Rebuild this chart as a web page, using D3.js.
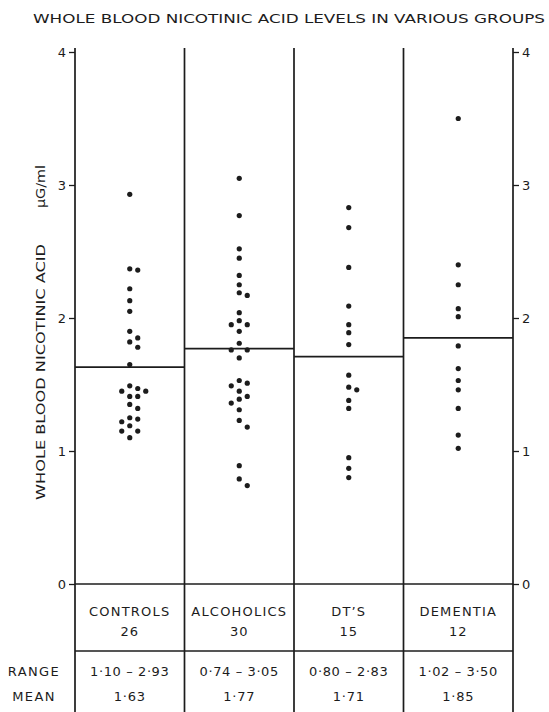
<!DOCTYPE html>
<html>
<head>
<meta charset="utf-8">
<script src="https://cdn.jsdelivr.net/npm/d3@7"></script>
<style>
  body { margin: 0; background: #fff; }
  svg { display: block; }
  text { font-family: 'DejaVu Sans', sans-serif; fill: #1c1c1c; }
</style>
</head>
<body>
<script>
const width = 549;
const height = 712;

const groups = ['CONTROLS', 'ALCOHOLICS', 'DT’S', 'DEMENTIA'];
const groupCounts = ['26', '30', '15', '12'];
const rangeLabels = ['1·10 – 2·93', '0·74 – 3·05', '0·80 – 2·83', '1·02 – 3·50'];
const meanLabels = ['1·63', '1·77', '1·71', '1·85'];
const meanValues = [1.63, 1.77, 1.71, 1.85];
const yTicks = [0, 1, 2, 3, 4];

const controlsValues = [2.93, 2.37, 2.36, 2.22, 2.13, 2.05, 1.90, 1.85, 1.82, 1.78, 1.65,
  1.49, 1.47, 1.45, 1.45, 1.41, 1.41, 1.35, 1.32, 1.25, 1.24, 1.22, 1.19, 1.15, 1.15, 1.10];
const alcoholicsValues = [3.05, 2.77, 2.52, 2.45, 2.32, 2.25, 2.19, 2.17, 2.04, 1.98, 1.95, 1.95,
  1.90, 1.81, 1.76, 1.76, 1.70, 1.53, 1.51, 1.49, 1.45, 1.41, 1.39, 1.36, 1.31, 1.23, 1.18,
  0.89, 0.79, 0.74];
const dtsValues = [2.83, 2.68, 2.38, 2.09, 1.95, 1.89, 1.80, 1.57, 1.48, 1.46, 1.38, 1.32,
  0.95, 0.87, 0.80];
const dementiaValues = [3.50, 2.40, 2.25, 2.07, 2.01, 1.79, 1.62, 1.53, 1.46, 1.32, 1.12, 1.02];

const groupValues = [controlsValues, alcoholicsValues, dtsValues, dementiaValues];

const ink = '#1c1c1c';

const x = d3.scaleBand().domain(groups).range([75, 513]).padding(0);
const y = d3.scaleLinear().domain([0, 4]).range([584, 52]);

// spread dots sideways when they would overlap
function dodge(values, cx) {
  const placed = [];
  const offsets = [0, 8, -8, 16, -16, 24, -24];
  values.slice().sort((a, b) => b - a).forEach(v => {
    const py = y(v);
    for (const o of offsets) {
      if (placed.every(p => Math.hypot(p.x - (cx + o), p.y - py) >= 7)) {
        placed.push({ x: cx + o, y: py, v });
        break;
      }
    }
  });
  return placed;
}

function main() {
  const svg = d3.select('body').append('svg')
    .attr('width', width)
    .attr('height', height);

  // title
  svg.append('text')
    .attr('x', 33)
    .attr('y', 23)
    .attr('textLength', 512)
    .attr('lengthAdjust', 'spacingAndGlyphs')
    .style('font-size', '13px')
    .text('WHOLE BLOOD NICOTINIC ACID LEVELS IN VARIOUS GROUPS');

  // y axis title
  svg.append('text')
    .attr('transform', 'translate(45,500) rotate(-90)')
    .attr('textLength', 256)
    .attr('lengthAdjust', 'spacingAndGlyphs')
    .style('font-size', '13px')
    .text('WHOLE BLOOD NICOTINIC ACID');
  svg.append('text')
    .attr('transform', 'translate(45,208) rotate(-90)')
    .attr('textLength', 43)
    .attr('lengthAdjust', 'spacingAndGlyphs')
    .style('font-size', '13px')
    .text('μG/ml');

  const frame = svg.append('g')
    .attr('stroke', ink)
    .attr('stroke-width', 1.7)
    .attr('fill', 'none');

  // vertical rules: left axis, dividers, right axis
  const edges = groups.map(g => x(g)).concat([x.range()[1]]);
  frame.selectAll('line.v')
    .data(edges)
    .join('line')
      .attr('class', 'v')
      .attr('x1', d => d)
      .attr('x2', d => d)
      .attr('y1', y(4) - 4)
      .attr('y2', height);

  // zero line and table divider
  frame.append('line')
    .attr('x1', x.range()[0]).attr('x2', x.range()[1])
    .attr('y1', y(0)).attr('y2', y(0));
  frame.append('line')
    .attr('x1', x.range()[0]).attr('x2', x.range()[1])
    .attr('y1', 651).attr('y2', 651);

  // left axis
  const left = svg.append('g')
    .attr('transform', `translate(${x.range()[0]},0)`)
    .call(d3.axisLeft(y).tickValues(yTicks).tickFormat(d3.format('d')).tickSize(6).tickPadding(3));
  left.select('.domain').remove();
  left.selectAll('line').attr('stroke', ink).attr('stroke-width', 1.3);
  left.selectAll('text').style('font-size', '13px').attr('fill', ink);

  // right axis
  const right = svg.append('g')
    .attr('transform', `translate(${x.range()[1]},0)`)
    .call(d3.axisRight(y).tickValues(yTicks).tickFormat(d3.format('d')).tickSize(6).tickPadding(3));
  right.select('.domain').remove();
  right.selectAll('line').attr('stroke', ink).attr('stroke-width', 1.3);
  right.selectAll('text').style('font-size', '13px').attr('fill', ink);

  // group means
  svg.append('g')
    .selectAll('line')
    .data(groups)
    .join('line')
      .attr('x1', d => x(d))
      .attr('x2', d => x(d) + x.bandwidth())
      .attr('y1', (d, i) => y(meanValues[i]))
      .attr('y2', (d, i) => y(meanValues[i]))
      .attr('stroke', ink)
      .attr('stroke-width', 1.7);

  // individual values
  const dots = svg.append('g').attr('fill', ink);
  groups.forEach((g, i) => {
    const cx = x(g) + x.bandwidth() / 2;
    dots.selectAll(null)
      .data(dodge(groupValues[i], cx))
      .join('circle')
        .attr('cx', d => d.x)
        .attr('cy', d => d.y)
        .attr('r', 2.6);
  });

  // table below the plot
  const table = svg.append('g')
    .attr('text-anchor', 'middle')
    .style('font-size', '13px');

  table.selectAll('text.name')
    .data(groups)
    .join('text')
      .attr('class', 'name')
      .attr('x', d => x(d) + x.bandwidth() / 2)
      .attr('y', 616)
      .style('letter-spacing', '1.2px')
      .text(d => d);

  table.selectAll('text.count')
    .data(groupCounts)
    .join('text')
      .attr('class', 'count')
      .attr('x', (d, i) => x(groups[i]) + x.bandwidth() / 2)
      .attr('y', 636)
      .style('letter-spacing', '1px')
      .text(d => d);

  table.selectAll('text.range')
    .data(rangeLabels)
    .join('text')
      .attr('class', 'range')
      .attr('x', (d, i) => x(groups[i]) + x.bandwidth() / 2)
      .attr('y', 676)
      .style('letter-spacing', '0.6px')
      .text(d => d);

  table.selectAll('text.mean')
    .data(meanLabels)
    .join('text')
      .attr('class', 'mean')
      .attr('x', (d, i) => x(groups[i]) + x.bandwidth() / 2)
      .attr('y', 701)
      .style('letter-spacing', '0.8px')
      .text(d => d);

  table.append('text')
    .attr('x', 34).attr('y', 676)
    .style('letter-spacing', '1.4px')
    .text('RANGE');
  table.append('text')
    .attr('x', 34).attr('y', 701)
    .style('letter-spacing', '1.4px')
    .text('MEAN');
}

main();
</script>
</body>
</html>
